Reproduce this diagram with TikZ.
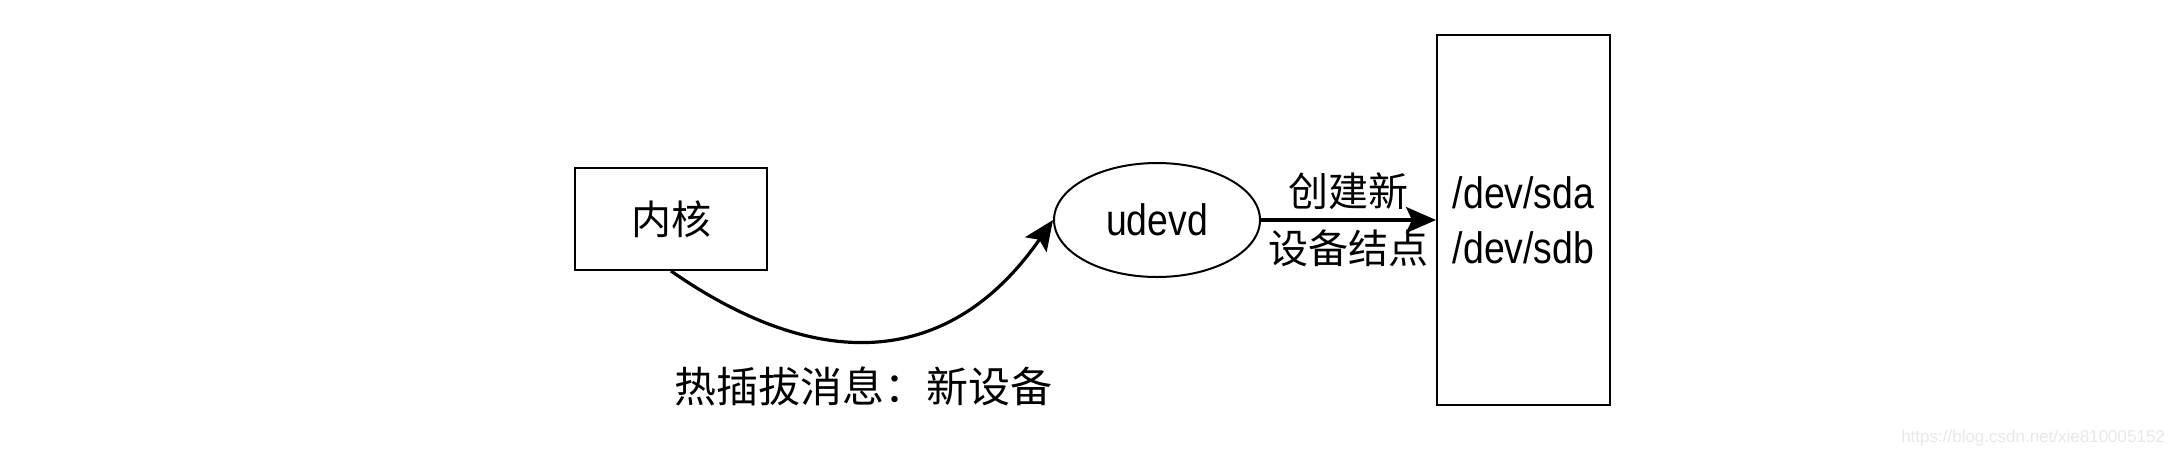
\documentclass[tikz,border=0pt]{standalone}
\usepackage{fontspec}
\setmainfont{Liberation Sans}
\newfontfamily\cjk{Noto Sans CJK SC}
\newfontfamily\narrow[FakeStretch=0.85]{Liberation Sans}
\usetikzlibrary{arrows.meta,shapes.geometric}
\tikzset{
  boxnode/.style={draw=black, line width=1pt, fill=white, inner sep=0pt},
  ellnode/.style={draw=black, line width=1pt, ellipse, inner sep=0pt},
  cjktext/.style={font=\cjk\fontsize{20pt}{24pt}\selectfont},
  cjkbig/.style={font=\cjk\fontsize{21pt}{25pt}\selectfont},
  lattext/.style={font=\narrow\fontsize{22pt}{27.5pt}\selectfont},
  conn/.style={line width=1.6pt, -{Stealth[length=15pt, width=13pt, inset=3pt]}},
  wmark/.style={font=\fontsize{8.5pt}{10pt}\selectfont, text=black!9}
}
\begin{document}
\begin{tikzpicture}[x=0.5pt,y=-0.5pt]
\useasboundingbox (0,0) rectangle (2182,456);
\fill[white] (0,0) rectangle (2182,456);
\node[boxnode, cjktext, minimum width=96pt, minimum height=51pt] (k) at (671,219) {内核};
\node[ellnode, lattext, minimum width=103pt, minimum height=57pt] (u) at (1157,220) {udevd};
\node[boxnode, lattext, align=center, minimum width=86.5pt, minimum height=185pt] (d) at (1523.5,220) {/dev/sda\\/dev/sdb};
\draw[conn] (k.south) .. controls +(148,103) and +(-103,148) .. (u.west);
\node[cjkbig] (lab) at (863,386) {热插拔消息：新设备};
\draw[conn] (u.east) -- node[cjktext, above=1pt] (l1) {创建新} node[cjktext, below=1pt] (l2) {设备结点} (d.west);
\node[wmark, anchor=east] (wm) at (2172,438) {https://blog.csdn.net/xie810005152};
\end{tikzpicture}
\end{document}
